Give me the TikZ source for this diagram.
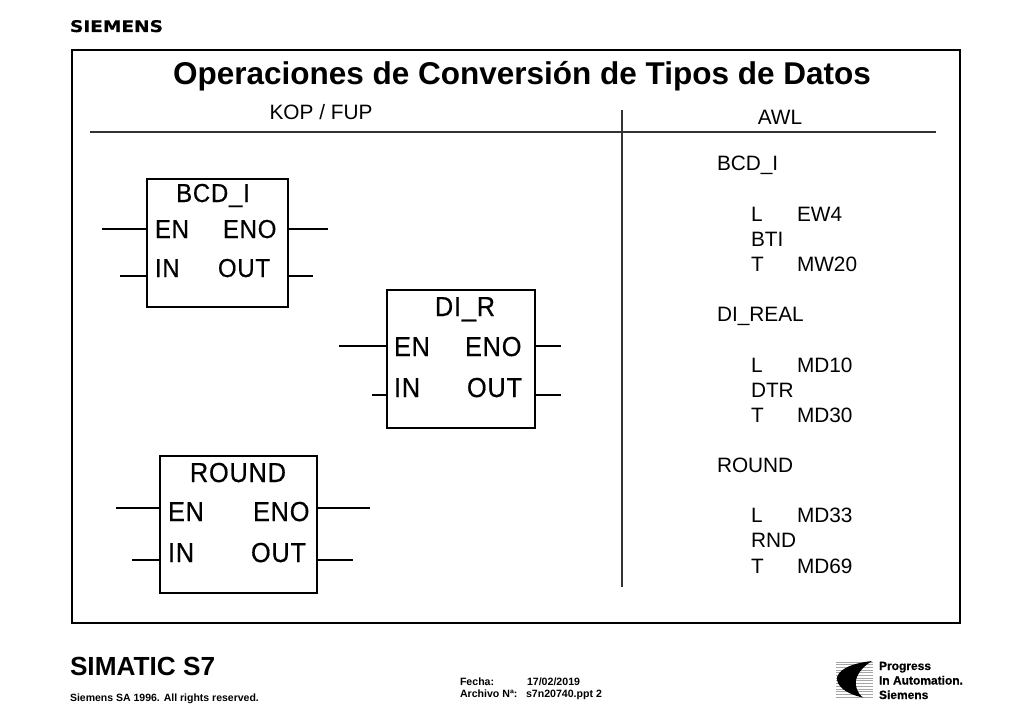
\documentclass[tikz,border=0pt]{standalone}
\usepackage{graphicx}
\usepackage{fontspec}
\setmainfont{Liberation Sans}
\newfontfamily\blockfont[LetterSpace=3,FakeStretch=0.92,FakeBold=0.5]{Liberation Sans}
\newfontfamily\logofont[BoldFeatures={FakeBold=0.6}]{DejaVu Sans}
\newfontfamily\progfont[BoldFeatures={FakeBold=0.5}]{Liberation Sans}
\tikzset{
  frame/.style={draw=black,line width=2.8pt},
  rulel/.style={draw=black!80,line width=1.8pt},
  fb/.style={draw=black,line width=2.5pt,rectangle,inner sep=0pt,outer sep=0pt},
  wire/.style={draw=black,line width=2.5pt},
  lbl/.style={anchor=base west,inner sep=0pt,outer sep=0pt},
  clbl/.style={anchor=base,inner sep=0pt,outer sep=0pt},
  blocktxt/.style={lbl,font=\fontsize{26}{26}\selectfont\blockfont},
  blocktitle/.style={clbl,font=\fontsize{26}{26}\selectfont\blockfont},
  blocktxtb/.style={lbl,font=\fontsize{27.5}{28}\selectfont\blockfont},
  blocktitleb/.style={clbl,font=\fontsize{27.5}{28}\selectfont\blockfont},
  awl/.style={lbl,font=\fontsize{20.8}{21}\selectfont},
  foot/.style={lbl,font=\fontsize{10.6}{11}\selectfont\bfseries},
  prog/.style={lbl,font=\fontsize{12}{12}\selectfont\progfont\bfseries},
}
\begin{document}
\begin{tikzpicture}[x=1pt,y=-1pt]
\useasboundingbox (0,0) rectangle (1024,709);
% header
\node[lbl,font=\fontsize{16}{16}\selectfont\logofont\bfseries] (siemens) at (70,32) {\scalebox{1.16}[1]{SIEMENS}};
\node[rectangle,frame,minimum width=888pt,minimum height=573pt,inner sep=0pt] (outer) at (516,336.5) {};
\node[clbl,font=\fontsize{31.5}{32}\selectfont\bfseries] (title) at (522,84) {Operaciones de Conversión de Tipos de Datos};
\node[clbl,font=\fontsize{20.8}{21}\selectfont] (kop) at (321,119.5) {KOP / FUP};
\node[clbl,font=\fontsize{20.8}{21}\selectfont] (awlh) at (780,124) {AWL};
\coordinate (hl) at (90,132); \coordinate (hr) at (936,132);
\coordinate (vt) at (622,110); \coordinate (vb) at (622,587);
\draw[rulel] (hl) -- (hr);
\draw[rulel] (vt) -- (vb);
% BCD_I
\node[fb,minimum width=141pt,minimum height=128pt] (bcd) at (217.5,243) {};
\node[blocktitle] (bcdt) at (213,202) {BCD\_I};
\node[blocktxt] (bcden) at (155,238) {EN};
\node[blocktxt] (bcdeno) at (223,238) {ENO};
\node[blocktxt] (bcdin) at (155,277) {IN};
\node[blocktxt] (bcdout) at (218,277) {OUT};
\coordinate (a1) at (102,229); \coordinate (a2) at (120,276);
\coordinate (a3) at (328,229); \coordinate (a4) at (313,276);
\draw[wire] (a1) -- (bcd.west |- a1);
\draw[wire] (a2) -- (bcd.west |- a2);
\draw[wire] (bcd.east |- a3) -- (a3);
\draw[wire] (bcd.east |- a4) -- (a4);
% DI_R
\node[fb,minimum width=148pt,minimum height=138pt] (dir) at (461,359) {};
\node[blocktitleb] (dirt) at (465,316) {DI\_R};
\node[blocktxtb] (diren) at (394,356) {EN};
\node[blocktxtb] (direno) at (465,356) {ENO};
\node[blocktxtb] (dirin) at (394,397) {IN};
\node[blocktxtb] (dirout) at (467,397) {OUT};
\coordinate (b1) at (339,346); \coordinate (b2) at (372,395);
\coordinate (b3) at (561,346); \coordinate (b4) at (561,395);
\draw[wire] (b1) -- (dir.west |- b1);
\draw[wire] (b2) -- (dir.west |- b2);
\draw[wire] (dir.east |- b3) -- (b3);
\draw[wire] (dir.east |- b4) -- (b4);
% ROUND
\node[fb,minimum width=157pt,minimum height=137pt] (rnd) at (238.5,524.5) {};
\node[blocktitleb] (rndt) at (238,482) {ROUND};
\node[blocktxtb] (rnden) at (168,521) {EN};
\node[blocktxtb] (rndeno) at (253,521) {ENO};
\node[blocktxtb] (rndin) at (168,562) {IN};
\node[blocktxtb] (rndout) at (251,562) {OUT};
\coordinate (c1) at (116,508); \coordinate (c2) at (132,560);
\coordinate (c3) at (370,508); \coordinate (c4) at (353,560);
\draw[wire] (c1) -- (rnd.west |- c1);
\draw[wire] (c2) -- (rnd.west |- c2);
\draw[wire] (rnd.east |- c3) -- (c3);
\draw[wire] (rnd.east |- c4) -- (c4);
% AWL column
\node[awl] (s1) at (717,170) {BCD\_I};
\node[awl] (s2) at (751,221) {L};    \node[awl] (s2b) at (797,221) {EW4};
\node[awl] (s3) at (751,246) {BTI};
\node[awl] (s4) at (751,271) {T};    \node[awl] (s4b) at (797,271) {MW20};
\node[awl] (s5) at (717,321) {DI\_REAL};
\node[awl] (s6) at (751,372) {L};    \node[awl] (s6b) at (797,372) {MD10};
\node[awl] (s7) at (751,397) {DTR};
\node[awl] (s8) at (751,422) {T};    \node[awl] (s8b) at (797,422) {MD30};
\node[awl] (s9) at (717,472) {ROUND};
\node[awl] (s10) at (751,522) {L};   \node[awl] (s10b) at (797,522) {MD33};
\node[awl] (s11) at (751,547) {RND};
\node[awl] (s12) at (751,573) {T};   \node[awl] (s12b) at (797,573) {MD69};
% footer
\node[lbl,font=\fontsize{26.2}{26}\selectfont\bfseries] (simatic) at (70,675) {SIMATIC S7};
\node[lbl,font=\fontsize{10.5}{11}\selectfont\bfseries] (rights) at (70,701) {Siemens SA 1996. All rights reserved.};
\node[foot] (fecha) at (460,685) {Fecha:};
\node[foot] (fechav) at (527,685) {17/02/2019};
\node[foot] (arch) at (460,697) {Archivo Nª:};
\node[foot] (archv) at (526,697) {s7n20740.ppt 2};
% logo
\foreach \yy in {662,664.7,...,698} \draw[black!35,line width=0.9pt] (836,\yy) -- (873,\yy);
\fill[black] (872,661) .. controls (855,663) and (841,667) .. (837,677)
   .. controls (836,686) and (846,694) .. (863,697.5)
   .. controls (857,693) and (855,686) .. (856,680)
   .. controls (858,672) and (864,666) .. (872,661) -- cycle;
\node[prog] (p1) at (879,670) {Progress};
\node[prog] (p2) at (879,684.5) {In Automation.};
\node[prog] (p3) at (879,699) {Siemens};
\end{tikzpicture}
\end{document}
